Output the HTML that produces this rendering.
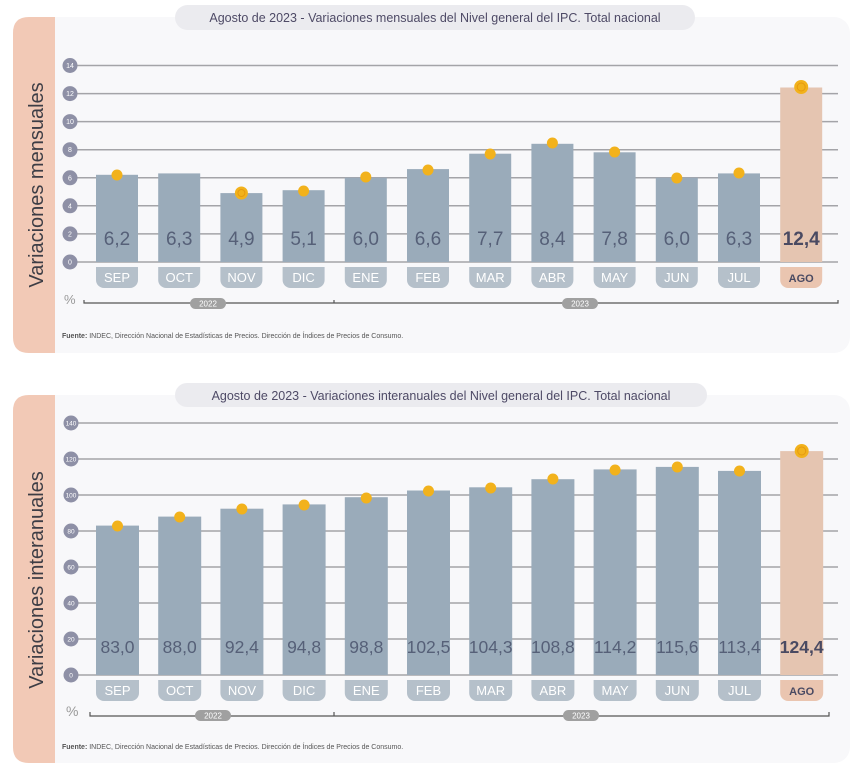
<!DOCTYPE html>
<html><head><meta charset="utf-8"><style>
html,body{margin:0;padding:0;background:#fff;}
svg{display:block;font-family:"Liberation Sans",sans-serif;}
</style></head><body>
<svg width="861" height="766" viewBox="0 0 861 766" xmlns="http://www.w3.org/2000/svg">
<!-- ===== Chart 1 ===== -->
<rect x="13" y="17" width="837" height="336" rx="16" fill="#f8f8fa"/>
<path d="M29 17 H55 V353 H29 Q13 353 13 337 V33 Q13 17 29 17Z" fill="#f2c9b6"/>
<text transform="translate(43,185) rotate(-90)" text-anchor="middle" font-size="20" fill="#3d3d45">Variaciones mensuales</text>
<rect x="175" y="5" width="520" height="25" rx="12.5" fill="#ebebef"/>
<text x="435" y="22" text-anchor="middle" font-size="12.5" fill="#4e4a66">Agosto de 2023 - Variaciones mensuales del Nivel general del IPC. Total nacional</text>
<g stroke="#a4a4a8" stroke-width="1.5">
<line x1="70" y1="262" x2="838" y2="262"/><line x1="70" y1="233.9" x2="838" y2="233.9"/>
<line x1="70" y1="205.8" x2="838" y2="205.8"/><line x1="70" y1="177.8" x2="838" y2="177.8"/>
<line x1="70" y1="149.7" x2="838" y2="149.7"/><line x1="70" y1="121.6" x2="838" y2="121.6"/>
<line x1="70" y1="93.6" x2="838" y2="93.6"/><line x1="70" y1="65.5" x2="838" y2="65.5"/>
</g>
<g fill="#8e90a6">
<circle cx="70" cy="262" r="7.5"/><circle cx="70" cy="233.9" r="7.5"/><circle cx="70" cy="205.8" r="7.5"/><circle cx="70" cy="177.8" r="7.5"/>
<circle cx="70" cy="149.7" r="7.5"/><circle cx="70" cy="121.6" r="7.5"/><circle cx="70" cy="93.6" r="7.5"/><circle cx="70" cy="65.5" r="7.5"/>
</g>
<g fill="#fff" font-size="7" text-anchor="middle">
<text x="70" y="264.5">0</text><text x="70" y="236.4">2</text><text x="70" y="208.3">4</text><text x="70" y="180.3">6</text>
<text x="70" y="152.2">8</text><text x="70" y="124.1">10</text><text x="70" y="96.1">12</text><text x="70" y="68">14</text>
</g>
<g fill="#9aabba">
<rect x="96" y="174.8" width="42" height="87.2"/><rect x="158.2" y="173.4" width="42" height="88.6"/>
<rect x="220.4" y="193.1" width="42" height="68.9"/><rect x="282.6" y="190.2" width="42" height="71.8"/>
<rect x="344.8" y="177.6" width="42" height="84.4"/><rect x="407" y="169.1" width="42" height="92.9"/>
<rect x="469.2" y="153.7" width="42" height="108.3"/><rect x="531.4" y="143.8" width="42" height="118.2"/>
<rect x="593.6" y="152.3" width="42" height="109.7"/><rect x="655.8" y="177.6" width="42" height="84.4"/>
<rect x="718" y="173.4" width="42" height="88.6"/>
</g>
<rect x="780.2" y="87.5" width="42" height="174.5" fill="#e5c5b1"/>
<g fill="#b5c0ca">
<path d="M96 267h42v13a8 8 0 0 1-8 8h-26a8 8 0 0 1-8-8z"/><path d="M158.2 267h42v13a8 8 0 0 1-8 8h-26a8 8 0 0 1-8-8z"/>
<path d="M220.4 267h42v13a8 8 0 0 1-8 8h-26a8 8 0 0 1-8-8z"/><path d="M282.6 267h42v13a8 8 0 0 1-8 8h-26a8 8 0 0 1-8-8z"/>
<path d="M344.8 267h42v13a8 8 0 0 1-8 8h-26a8 8 0 0 1-8-8z"/><path d="M407 267h42v13a8 8 0 0 1-8 8h-26a8 8 0 0 1-8-8z"/>
<path d="M469.2 267h42v13a8 8 0 0 1-8 8h-26a8 8 0 0 1-8-8z"/><path d="M531.4 267h42v13a8 8 0 0 1-8 8h-26a8 8 0 0 1-8-8z"/>
<path d="M593.6 267h42v13a8 8 0 0 1-8 8h-26a8 8 0 0 1-8-8z"/><path d="M655.8 267h42v13a8 8 0 0 1-8 8h-26a8 8 0 0 1-8-8z"/>
<path d="M718 267h42v13a8 8 0 0 1-8 8h-26a8 8 0 0 1-8-8z"/>
</g>
<path d="M780.2 267h42v13a8 8 0 0 1-8 8h-26a8 8 0 0 1-8-8z" fill="#eac5b0"/>
<g fill="#fff" font-size="13" text-anchor="middle">
<text x="117" y="282">SEP</text><text x="179.2" y="282">OCT</text><text x="241.4" y="282">NOV</text><text x="303.6" y="282">DIC</text>
<text x="365.8" y="282">ENE</text><text x="428" y="282">FEB</text><text x="490.2" y="282">MAR</text><text x="552.4" y="282">ABR</text>
<text x="614.6" y="282">MAY</text><text x="676.8" y="282">JUN</text><text x="739" y="282">JUL</text>
</g>
<text x="801.2" y="282" text-anchor="middle" font-size="11" font-weight="bold" fill="#4a4a62">AGO</text>
<g fill="#566078" font-size="19" text-anchor="middle">
<text x="117" y="245">6,2</text><text x="179.2" y="245">6,3</text><text x="241.4" y="245">4,9</text><text x="303.6" y="245">5,1</text>
<text x="365.8" y="245">6,0</text><text x="428" y="245">6,6</text><text x="490.2" y="245">7,7</text><text x="552.4" y="245">8,4</text>
<text x="614.6" y="245">7,8</text><text x="676.8" y="245">6,0</text><text x="739" y="245">6,3</text>
</g>
<text x="801.2" y="245" text-anchor="middle" font-size="19" font-weight="bold" fill="#4a4a62">12,4</text>
<g fill="#f2b21c">
<circle cx="117" cy="175" r="5.5"/><circle cx="241.4" cy="193" r="6.5"/><circle cx="303.6" cy="191" r="5.5"/>
<circle cx="365.8" cy="177" r="5.5"/><circle cx="428" cy="170" r="5.5"/><circle cx="490.2" cy="154" r="5.5"/>
<circle cx="552.4" cy="143" r="5.5"/><circle cx="614.6" cy="152" r="5.5"/><circle cx="676.8" cy="178" r="5.5"/>
<circle cx="739" cy="173" r="5.5"/><circle cx="801.2" cy="87" r="7"/>
</g>
<circle cx="241.4" cy="193" r="3.5" fill="none" stroke="#e59a10" stroke-width="1"/>
<circle cx="801.2" cy="87" r="4" fill="none" stroke="#e59a10" stroke-width="1"/>
<text x="64" y="304" font-size="13" fill="#9a9a9a">%</text>
<path d="M84 300v3H838v-3" fill="none" stroke="#555" stroke-width="1.2"/>
<line x1="334" y1="300" x2="334" y2="303" stroke="#555" stroke-width="1.2"/>
<rect x="190" y="298" width="36" height="11" rx="5.5" fill="#a0a0a0"/>
<text x="208" y="306.5" text-anchor="middle" font-size="8" fill="#fff">2022</text>
<rect x="562" y="298" width="36" height="11" rx="5.5" fill="#a0a0a0"/>
<text x="580" y="306.5" text-anchor="middle" font-size="8" fill="#fff">2023</text>
<text x="62" y="338" font-size="7" fill="#555"><tspan font-weight="bold">Fuente:</tspan> INDEC, Dirección Nacional de Estadísticas de Precios. Dirección de Índices de Precios de Consumo.</text>

<!-- ===== Chart 2 ===== -->
<rect x="13" y="395" width="837" height="368" rx="16" fill="#f8f8fa"/>
<path d="M29 395 H55 V763 H29 Q13 763 13 747 V411 Q13 395 29 395Z" fill="#f2c9b6"/>
<text transform="translate(43,580) rotate(-90)" text-anchor="middle" font-size="20" fill="#3d3d45">Variaciones interanuales</text>
<rect x="175" y="383" width="532" height="24" rx="12" fill="#ebebef"/>
<text x="441" y="400" text-anchor="middle" font-size="12.5" fill="#4e4a66">Agosto de 2023 - Variaciones interanuales del Nivel general del IPC. Total nacional</text>
<g stroke="#a4a4a8" stroke-width="1.5">
<line x1="70" y1="675" x2="838" y2="675"/><line x1="70" y1="639" x2="838" y2="639"/>
<line x1="70" y1="603" x2="838" y2="603"/><line x1="70" y1="567" x2="838" y2="567"/>
<line x1="70" y1="531" x2="838" y2="531"/><line x1="70" y1="495" x2="838" y2="495"/>
<line x1="70" y1="459" x2="838" y2="459"/><line x1="70" y1="423" x2="838" y2="423"/>
</g>
<g fill="#8e90a6">
<circle cx="71" cy="675" r="7.5"/><circle cx="71" cy="639" r="7.5"/><circle cx="71" cy="603" r="7.5"/><circle cx="71" cy="567" r="7.5"/>
<circle cx="71" cy="531" r="7.5"/><circle cx="71" cy="495" r="7.5"/><circle cx="71" cy="459" r="7.5"/><circle cx="71" cy="423" r="7.5"/>
</g>
<g fill="#fff" font-size="6.5" text-anchor="middle">
<text x="71" y="677.5">0</text><text x="71" y="641.5">20</text><text x="71" y="605.5">40</text><text x="71" y="569.5">60</text>
<text x="71" y="533.5">80</text><text x="71" y="497.5">100</text><text x="71" y="461.5">120</text><text x="71" y="425.5">140</text>
</g>
<g fill="#9aabba">
<rect x="96" y="525.6" width="43" height="149.4"/><rect x="158.2" y="516.6" width="43" height="158.4"/>
<rect x="220.4" y="508.7" width="43" height="166.3"/><rect x="282.6" y="504.4" width="43" height="170.6"/>
<rect x="344.8" y="497.2" width="43" height="177.8"/><rect x="407" y="490.5" width="43" height="184.5"/>
<rect x="469.2" y="487.3" width="43" height="187.7"/><rect x="531.4" y="479.2" width="43" height="195.8"/>
<rect x="593.6" y="469.4" width="43" height="205.6"/><rect x="655.8" y="466.9" width="43" height="208.1"/>
<rect x="718" y="470.9" width="43" height="204.1"/>
</g>
<rect x="780.2" y="451.1" width="43" height="223.9" fill="#e5c5b1"/>
<g fill="#b5c0ca">
<path d="M96 680h43v13a8 8 0 0 1-8 8h-27a8 8 0 0 1-8-8z"/><path d="M158.2 680h43v13a8 8 0 0 1-8 8h-27a8 8 0 0 1-8-8z"/>
<path d="M220.4 680h43v13a8 8 0 0 1-8 8h-27a8 8 0 0 1-8-8z"/><path d="M282.6 680h43v13a8 8 0 0 1-8 8h-27a8 8 0 0 1-8-8z"/>
<path d="M344.8 680h43v13a8 8 0 0 1-8 8h-27a8 8 0 0 1-8-8z"/><path d="M407 680h43v13a8 8 0 0 1-8 8h-27a8 8 0 0 1-8-8z"/>
<path d="M469.2 680h43v13a8 8 0 0 1-8 8h-27a8 8 0 0 1-8-8z"/><path d="M531.4 680h43v13a8 8 0 0 1-8 8h-27a8 8 0 0 1-8-8z"/>
<path d="M593.6 680h43v13a8 8 0 0 1-8 8h-27a8 8 0 0 1-8-8z"/><path d="M655.8 680h43v13a8 8 0 0 1-8 8h-27a8 8 0 0 1-8-8z"/>
<path d="M718 680h43v13a8 8 0 0 1-8 8h-27a8 8 0 0 1-8-8z"/>
</g>
<path d="M780.2 680h43v13a8 8 0 0 1-8 8h-27a8 8 0 0 1-8-8z" fill="#eac5b0"/>
<g fill="#fff" font-size="13" text-anchor="middle">
<text x="117.5" y="695">SEP</text><text x="179.7" y="695">OCT</text><text x="241.9" y="695">NOV</text><text x="304.1" y="695">DIC</text>
<text x="366.3" y="695">ENE</text><text x="428.5" y="695">FEB</text><text x="490.7" y="695">MAR</text><text x="552.9" y="695">ABR</text>
<text x="615.1" y="695">MAY</text><text x="677.3" y="695">JUN</text><text x="739.5" y="695">JUL</text>
</g>
<text x="801.7" y="695" text-anchor="middle" font-size="11" font-weight="bold" fill="#4a4a62">AGO</text>
<g fill="#566078" font-size="17.5" text-anchor="middle">
<text x="117.5" y="653">83,0</text><text x="179.7" y="653">88,0</text><text x="241.9" y="653">92,4</text><text x="304.1" y="653">94,8</text>
<text x="366.3" y="653">98,8</text><text x="428.5" y="653">102,5</text><text x="490.7" y="653">104,3</text><text x="552.9" y="653">108,8</text>
<text x="615.1" y="653">114,2</text><text x="677.3" y="653">115,6</text><text x="739.5" y="653">113,4</text>
</g>
<text x="801.7" y="653" text-anchor="middle" font-size="17.5" font-weight="bold" fill="#4a4a62">124,4</text>
<g fill="#f2b21c">
<circle cx="117.5" cy="526" r="5.5"/><circle cx="179.7" cy="517" r="5.5"/><circle cx="241.9" cy="509" r="5.5"/>
<circle cx="304.1" cy="505" r="5.5"/><circle cx="366.3" cy="498" r="5.5"/><circle cx="428.5" cy="491" r="5.5"/>
<circle cx="490.7" cy="488" r="5.5"/><circle cx="552.9" cy="479" r="5.5"/><circle cx="615.1" cy="470" r="5.5"/>
<circle cx="677.3" cy="467" r="5.5"/><circle cx="739.5" cy="471" r="5.5"/><circle cx="801.7" cy="451" r="7"/>
</g>
<circle cx="801.7" cy="451" r="4" fill="none" stroke="#e59a10" stroke-width="1"/>
<text x="66" y="716" font-size="14" fill="#9a9a9a">%</text>
<path d="M90 712v4H829v-4" fill="none" stroke="#555" stroke-width="1.2"/>
<line x1="334" y1="712" x2="334" y2="716" stroke="#555" stroke-width="1.2"/>
<rect x="195" y="710" width="36" height="11" rx="5.5" fill="#a0a0a0"/>
<text x="213" y="718.5" text-anchor="middle" font-size="8" fill="#fff">2022</text>
<rect x="563" y="710" width="36" height="11" rx="5.5" fill="#a0a0a0"/>
<text x="581" y="718.5" text-anchor="middle" font-size="8" fill="#fff">2023</text>
<text x="62" y="749" font-size="7" fill="#555"><tspan font-weight="bold">Fuente:</tspan> INDEC, Dirección Nacional de Estadísticas de Precios. Dirección de Índices de Precios de Consumo.</text>
</svg>
</body></html>
